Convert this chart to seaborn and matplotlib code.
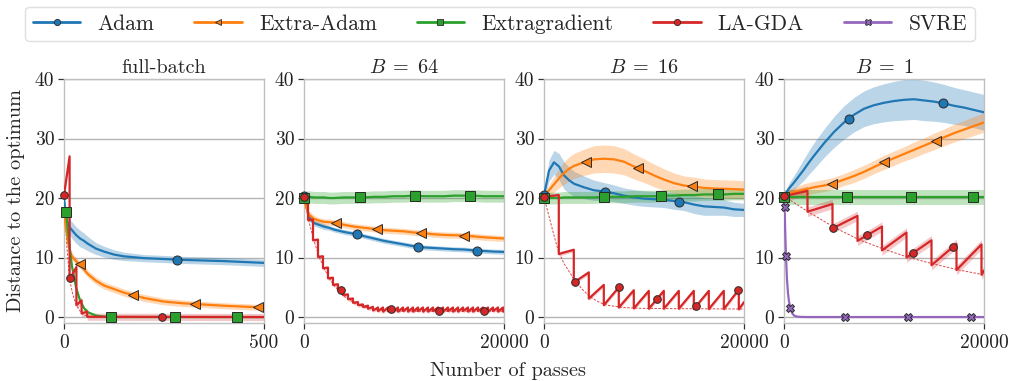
import numpy as np
import matplotlib
matplotlib.use("Agg")
import matplotlib.pyplot as plt
from matplotlib.lines import Line2D
import seaborn as sns

# ---------------- data ----------------
METHODS = ["Adam", "Extra-Adam", "Extragradient", "LA-GDA", "SVRE"]
PANEL_TITLES = ["full-batch", r"$B\;=\;64$", r"$B\;=\;16$", r"$B\;=\;1$"]
XMAX = [500, 20000, 20000, 20000]
X_LABEL = "Number of passes"
Y_LABEL = "Distance to the optimum"
Y_TICKS = [0, 10, 20, 30, 40]

# panel 1 (full-batch) grid
G1 = [0, 5, 10, 15, 20, 30, 40, 50, 60, 80, 100, 125, 150, 200, 250, 300, 350, 400, 450, 500]
p1_adam = [20.0, 17.0, 15.6, 15.0, 14.6, 13.8, 13.2, 12.8, 12.3, 11.5, 11.0, 10.5, 10.2, 9.9, 9.75, 9.6, 9.5, 9.4, 9.25, 9.1]
p1_adam_sd = [0.3, 1.0, 1.2, 1.3, 1.4, 1.4, 1.4, 1.3, 1.2, 1.0, 0.9, 0.8, 0.7, 0.6, 0.6, 0.6, 0.6, 0.6, 0.6, 0.6]
p1_eadam = [17.5, 15.0, 12.5, 11.0, 10.2, 9.4, 8.8, 8.0, 7.2, 6.1, 5.3, 4.7, 4.1, 3.2, 2.6, 2.3, 2.1, 1.9, 1.75, 1.6]
p1_eadam_sd = [0.3, 0.5, 0.6, 0.6, 0.6, 0.6, 0.6, 0.6, 0.6, 0.6, 0.6, 0.6, 0.6, 0.6, 0.55, 0.55, 0.5, 0.5, 0.5, 0.5]
p1_eg = [18.5, 17.7, 14.5, 11.2, 8.5, 5.0, 2.8, 1.5, 0.8, 0.25, 0.07, 0.0, 0.0, 0.0, 0.0, 0.0, 0.0, 0.0, 0.0, 0.0]
p1_eg_sd = [0.2, 0.3, 0.3, 0.3, 0.3, 0.3, 0.2, 0.2, 0.1, 0.05, 0.0, 0.0, 0.0, 0.0, 0.0, 0.0, 0.0, 0.0, 0.0, 0.0]
p1_la_resets = [14, 31, 44, 58]
p1_la_start = [20.5, 6.3, 2.0, 0.6, 0.05]
p1_la_end = [27.0, 8.4, 2.8, 0.9, 0.0]
p1_env_x = [0, 7, 14, 22, 31, 44, 58, 80, 500]
p1_env_y = [20.5, 12.0, 6.3, 3.8, 2.0, 0.6, 0.1, 0.0, 0.0]

# panels 2-4 grid
G = [0, 250, 500, 1000, 1500, 2000, 2500, 3000, 4000, 5000, 6000, 7000, 8000, 9000,
     10000, 11000, 12000, 13000, 14000, 15000, 16000, 17000, 18000, 19000, 20000]

# B = 64
p2_adam = [20.4, 18.5, 16.8, 15.8, 15.5, 15.2, 15.0, 14.7, 14.3, 14.0, 13.6, 13.2, 12.8, 12.5,
           12.2, 11.9, 11.7, 11.6, 11.5, 11.4, 11.35, 11.2, 11.1, 11.0, 10.95]
p2_adam_sd = [0.3, 0.6, 0.6, 0.5, 0.5, 0.5, 0.4, 0.4, 0.4, 0.4, 0.4, 0.4, 0.4, 0.4,
              0.4, 0.4, 0.4, 0.4, 0.4, 0.4, 0.4, 0.4, 0.4, 0.4, 0.4]
p2_eadam = [20.0, 18.3, 17.2, 16.5, 16.2, 16.0, 15.95, 15.85, 15.5, 15.2, 15.0, 14.8, 14.6, 14.5,
            14.4, 14.2, 14.1, 13.9, 13.8, 13.75, 13.7, 13.55, 13.4, 13.3, 13.2]
p2_eadam_sd = [0.3, 0.6, 0.6, 0.6, 0.5, 0.5, 0.5, 0.5, 0.5, 0.5, 0.5, 0.5, 0.5, 0.5,
               0.5, 0.5, 0.5, 0.5, 0.5, 0.5, 0.5, 0.5, 0.5, 0.5, 0.5]
p2_eg = [20.0, 20.2, 20.2, 20.1, 20.1, 20.1, 20.0, 20.0, 20.1, 20.1, 20.1, 20.2, 20.2, 20.3,
         20.3, 20.4, 20.3, 20.3, 20.3, 20.4, 20.4, 20.4, 20.3, 20.3, 20.3]
p2_eg_sd = 1.0
p2_la_resets = [400, 900, 1400, 1900, 2400, 2900, 3400, 3900, 4400, 4900, 5400, 5900, 6400, 6900,
                7400, 7900, 8400, 8900, 9400, 9900, 10400, 10900, 11400, 11900, 12400, 12900,
                13400, 13900, 14400, 14900, 15400, 15900, 16400, 16900, 17400, 17900, 18400,
                18900, 19400, 19900]
p2_la_start = [20.2, 16.3, 12.9, 10.1, 8.2, 6.5, 5.4, 4.5, 3.7, 3.0, 2.4, 2.0, 1.7, 1.4,
               1.1, 1.0, 0.9, 1.0, 0.9, 0.9, 1.0, 0.9, 0.9, 1.0, 0.9, 0.9, 1.0, 0.9,
               0.9, 1.0, 0.9, 0.9, 1.0, 0.9, 0.9, 1.0, 0.9, 0.9, 1.0, 0.9, 0.9]
p2_la_end = [20.3, 16.4, 13.0, 10.2, 8.3, 6.6, 5.5, 4.6, 3.8, 3.1, 2.5, 2.1, 1.9, 1.7,
             1.6, 1.6, 1.6, 1.6, 1.6, 1.6, 1.6, 1.6, 1.6, 1.6, 1.6, 1.6, 1.6, 1.6,
             1.6, 1.6, 1.6, 1.6, 1.6, 1.6, 1.6, 1.6, 1.6, 1.6, 1.6, 1.6, 1.2]
p2_env_x = [0, 500, 1000, 1500, 2000, 2500, 3000, 4000, 5000, 6000, 7000, 8000, 10000, 20000]
p2_env_y = [20.2, 16.0, 12.8, 10.2, 8.2, 6.6, 5.3, 3.5, 2.4, 1.7, 1.3, 1.1, 1.0, 1.0]

# B = 16
p3_adam = [20.5, 22.5, 24.6, 26.0, 25.3, 23.8, 23.0, 22.4, 21.8, 21.3, 21.1, 20.8, 20.4, 20.1,
           19.9, 19.8, 19.7, 19.5, 19.3, 18.9, 18.6, 18.5, 18.4, 18.1, 18.0]
p3_adam_sd = [0.3, 1.2, 1.8, 2.0, 2.2, 2.3, 2.2, 2.1, 1.9, 1.7, 1.5, 1.4, 1.3, 1.3,
              1.3, 1.3, 1.3, 1.4, 1.4, 1.5, 1.5, 1.4, 1.3, 1.2, 1.1]
p3_eadam = [20.2, 20.8, 21.3, 22.3, 23.3, 24.2, 24.9, 25.4, 26.0, 26.5, 26.6, 26.5, 26.1, 25.3,
            24.6, 23.8, 23.1, 22.5, 22.1, 21.9, 21.7, 21.6, 21.55, 21.5, 21.4]
p3_eadam_sd = [0.3, 0.6, 0.9, 1.3, 1.6, 1.9, 2.0, 2.1, 2.2, 2.3, 2.3, 2.3, 2.2, 2.1,
               2.0, 1.9, 1.8, 1.7, 1.6, 1.6, 1.5, 1.5, 1.5, 1.5, 1.5]
p3_eg = [20.0, 20.0, 20.0, 20.0, 20.0, 20.1, 20.1, 20.1, 20.1, 20.1, 20.2, 20.2, 20.2, 20.3,
         20.3, 20.3, 20.4, 20.4, 20.5, 20.5, 20.6, 20.6, 20.6, 20.7, 20.7]
p3_eg_sd = 1.0
p3_la_resets = [1480, 2980, 4480, 5980, 7480, 8980, 10480, 11980, 13480, 14980, 16480, 17980, 19480]
p3_la_start = [20.2, 10.6, 5.8, 3.1, 2.0, 1.6, 1.45, 1.4, 1.4, 1.4, 1.35, 1.35, 1.35, 1.3]
p3_la_end = [20.5, 11.3, 7.5, 5.4, 5.0, 4.5, 4.4, 4.4, 4.4, 4.4, 4.4, 4.4, 4.6, 2.5]
p3_env_x = [0, 300, 600, 1000, 1450, 2000, 2950, 3800, 4600, 5500, 6300, 7900, 10000, 14000, 20000]
p3_env_y = [20.2, 18.2, 16.3, 13.7, 11.0, 9.0, 6.5, 4.7, 3.4, 2.5, 2.0, 1.6, 1.45, 1.4, 1.35]

# B = 1
p4_adam = [20.5, 21.0, 21.6, 22.6, 23.7, 24.8, 26.0, 27.1, 29.2, 31.1, 32.7, 34.0, 35.0, 35.6,
           36.0, 36.3, 36.5, 36.6, 36.4, 36.2, 35.9, 35.5, 35.2, 34.8, 34.4]
p4_adam_sd = [0.3, 0.6, 0.9, 1.2, 1.5, 1.8, 2.0, 2.2, 2.4, 2.6, 2.8, 2.9, 3.0, 3.1,
              3.2, 3.3, 3.4, 3.4, 3.4, 3.3, 3.2, 3.1, 3.0, 3.0, 3.0]
p4_eadam = [20.5, 20.7, 20.8, 21.0, 21.2, 21.4, 21.6, 21.8, 22.1, 22.5, 23.1, 23.7, 24.4, 25.2,
            26.0, 26.7, 27.4, 28.1, 28.8, 29.5, 30.2, 30.9, 31.5, 32.1, 32.7]
p4_eadam_sd = [0.3, 0.5, 0.6, 0.8, 0.9, 1.0, 1.0, 1.0, 1.0, 1.0, 1.0, 1.1, 1.1, 1.1,
               1.2, 1.2, 1.2, 1.3, 1.3, 1.4, 1.4, 1.5, 1.5, 1.6, 1.6]
p4_eg = [20.1, 20.1, 20.1, 20.1, 20.1, 20.1, 20.1, 20.1, 20.1, 20.1, 20.1, 20.1, 20.1, 20.1,
         20.1, 20.1, 20.1, 20.1, 20.1, 20.1, 20.1, 20.1, 20.1, 20.1, 20.1]
p4_eg_sd = 1.2
p4_la_resets = [2350, 4850, 7350, 9800, 12250, 14750, 17250, 19750]
p4_la_start = [20.3, 17.7, 14.9, 12.8, 11.2, 10.0, 8.7, 7.9, 7.1]
p4_la_end = [21.2, 19.0, 17.0, 15.2, 14.2, 12.9, 12.3, 12.2, 7.8]
p4_env_x = [0, 2500, 5000, 7500, 10000, 12500, 15000, 17500, 20000]
p4_env_y = [20.3, 17.6, 15.1, 13.0, 11.4, 10.0, 8.9, 7.9, 7.1]
p4_svre_x = [0, 60, 120, 200, 300, 400, 500, 630, 800, 1000, 1300, 1700, 2500, 20000]
p4_svre_y = [20.0, 18.5, 14.5, 10.2, 6.3, 4.0, 2.6, 1.6, 0.7, 0.25, 0.08, 0.02, 0.0, 0.0]

# marker positions (x) per panel and method
MARKS = [
    {"Adam": [282], "Extra-Adam": [39, 172, 328, 485], "Extragradient": [5, 118, 277, 433],
     "LA-GDA": [0, 16, 245]},
    {"Adam": [0, 5270, 11430, 17270], "Extra-Adam": [3170, 7330, 11670, 16000],
     "Extragradient": [0, 5570, 11070, 16630], "LA-GDA": [0, 3667, 8667, 13530, 18000]},
    {"Adam": [0, 6070, 13500], "Extra-Adam": [4230, 9400, 14800],
     "Extragradient": [0, 6000, 11700, 17400], "LA-GDA": [0, 3100, 7470, 11300, 15200, 19430]},
    {"Adam": [6480, 15890], "Extra-Adam": [4810, 9980, 15190],
     "Extragradient": [0, 6310, 12650, 18930], "LA-GDA": [0, 4900, 8300, 12900, 16900],
     "SVRE": [60, 200, 630, 6140, 12420, 18730]},
]

# ---------------- style ----------------
COLORS = {"Adam": "#1f77b4", "Extra-Adam": "#ff7f0e", "Extragradient": "#2ca02c",
          "LA-GDA": "#d62728", "SVRE": "#9467bd"}
MARKER = {"Adam": "o", "Extra-Adam": "<", "Extragradient": "s", "LA-GDA": "o", "SVRE": "X"}
MSIZE = {"Adam": 6.5, "Extra-Adam": 6.5, "Extragradient": 6.5, "LA-GDA": 5.5, "SVRE": 6.0}

sns.set_theme(style="whitegrid")
plt.rcParams.update({
    "font.family": "serif",
    "font.serif": ["cmr10", "DejaVu Serif"],
    "mathtext.fontset": "cm",
    "axes.formatter.use_mathtext": True,
    "font.size": 14,
    "axes.edgecolor": "#c0c0c0",
    "axes.linewidth": 1.0,
    "grid.color": "#b4b4b4",
    "grid.linewidth": 1.0,
    "xtick.bottom": True,
    "ytick.left": True,
    "xtick.color": "#333333",
    "ytick.color": "#333333",
    "xtick.labelcolor": "#222222",
    "ytick.labelcolor": "#222222",
    "xtick.major.size": 4,
    "ytick.major.size": 4,
    "xtick.major.width": 0.9,
    "ytick.major.width": 0.9,
    "xtick.major.pad": 4,
    "ytick.major.pad": 3,
    "xtick.labelsize": 14,
    "ytick.labelsize": 14,
})

LW = 1.6
LABEL_FS = 14.6


def saw_path(resets, starts, ends, xmax):
    bounds = [0] + list(resets) + [xmax]
    xs, ys = [], []
    for k in range(len(starts)):
        xs += [bounds[k], bounds[k + 1]]
        ys += [starts[k], ends[k]]
    return np.array(xs, float), np.array(ys, float)


def draw(ax, name, x, y, sd, marks, band_alpha=0.3):
    x = np.asarray(x, float)
    y = np.asarray(y, float)
    c = COLORS[name]
    if sd is not None:
        sd = np.broadcast_to(np.asarray(sd, float), y.shape)
        ax.fill_between(x, np.minimum(y - sd, 40), np.minimum(y + sd, 40),
                        color=c, alpha=band_alpha, lw=0, zorder=1)
    sns.lineplot(x=x, y=y, ax=ax, color=c, lw=LW, estimator=None, sort=False, zorder=3)
    if marks:
        mx = np.asarray(marks, float)
        my = np.interp(mx, x, y)
        ax.plot(mx, my, ls="none", marker=MARKER[name], ms=MSIZE[name], mfc=c,
                mec="#2a2a2a", mew=0.7, clip_on=False, zorder=5)


def draw_env(ax, x, y):
    ax.plot(x, y, color=COLORS["LA-GDA"], lw=0.7, ls=(0, (2.5, 1.5)), alpha=0.85, zorder=2)


fig, axes = plt.subplots(1, 4, figsize=(10.11, 3.81), dpi=100)
left0, width, gap = 64 / 1011, 200 / 1011, 240 / 1011
bottom, height = 1 - 323 / 381, (323 - 79) / 381
for i, ax in enumerate(axes):
    ax.set_position([left0 + i * gap, bottom, width, height])

panels = [
    dict(grid=G1, adam=(p1_adam, p1_adam_sd), eadam=(p1_eadam, p1_eadam_sd), eg=(p1_eg, p1_eg_sd),
         la=(p1_la_resets, p1_la_start, p1_la_end, 0.6), env=(p1_env_x, p1_env_y)),
    dict(grid=G, adam=(p2_adam, p2_adam_sd), eadam=(p2_eadam, p2_eadam_sd), eg=(p2_eg, p2_eg_sd),
         la=(p2_la_resets, p2_la_start, p2_la_end, 0.35), env=(p2_env_x, p2_env_y)),
    dict(grid=G, adam=(p3_adam, p3_adam_sd), eadam=(p3_eadam, p3_eadam_sd), eg=(p3_eg, p3_eg_sd),
         la=(p3_la_resets, p3_la_start, p3_la_end, 0.35), env=(p3_env_x, p3_env_y)),
    dict(grid=G, adam=(p4_adam, p4_adam_sd), eadam=(p4_eadam, p4_eadam_sd), eg=(p4_eg, p4_eg_sd),
         la=(p4_la_resets, p4_la_start, p4_la_end, 0.8), env=(p4_env_x, p4_env_y)),
]

for i, (ax, P) in enumerate(zip(axes, panels)):
    mk = MARKS[i]
    draw(ax, "Adam", P["grid"], P["adam"][0], P["adam"][1], mk.get("Adam"))
    draw(ax, "Extra-Adam", P["grid"], P["eadam"][0], P["eadam"][1], mk.get("Extra-Adam"))
    draw(ax, "Extragradient", P["grid"], P["eg"][0], P["eg"][1], mk.get("Extragradient"))
    draw_env(ax, *P["env"])
    rs, st, en, sd = P["la"]
    lx, ly = saw_path(rs, st, en, XMAX[i])
    draw(ax, "LA-GDA", lx, ly, sd, mk.get("LA-GDA"), band_alpha=0.25)
    if i == 3:
        draw(ax, "SVRE", p4_svre_x, p4_svre_y, None, mk.get("SVRE"))

    ax.set_xlim(0, XMAX[i])
    ax.set_ylim(-1, 40)
    ax.set_xticks([0, XMAX[i]])
    ax.set_xticklabels([str(0), str(XMAX[i])])
    ax.set_yticks(Y_TICKS)
    ax.set_yticklabels([str(t) for t in Y_TICKS])
    ax.grid(False, axis="x")
    ax.grid(True, axis="y")
    ax.set_title(PANEL_TITLES[i], fontsize=LABEL_FS, pad=4)
    ax.set_xlabel("")
    ax.set_ylabel("")
    for s in ax.spines.values():
        s.set_color("#c0c0c0")

axes[0].set_ylabel(Y_LABEL, fontsize=LABEL_FS, labelpad=7)
fig.text(508 / 1011, 1 - 371 / 381, X_LABEL, ha="center", va="center", fontsize=LABEL_FS)

handles = [Line2D([], [], color=COLORS[m], lw=2, marker=MARKER[m], ms=4.5, mfc=COLORS[m],
                  mec="#2a2a2a", mew=0.6) for m in METHODS]
leg = fig.legend(handles, METHODS, loc="center", bbox_to_anchor=(500 / 1011, 1 - 24 / 381),
                 ncol=5, frameon=True, fancybox=True, fontsize=15.5, handlelength=2.2,
                 handletextpad=0.8, columnspacing=1.85, borderpad=0.35)
leg.get_frame().set_edgecolor("#d8d8d8")
leg.get_frame().set_linewidth(1.0)

fig.savefig("out.png", dpi=100)
